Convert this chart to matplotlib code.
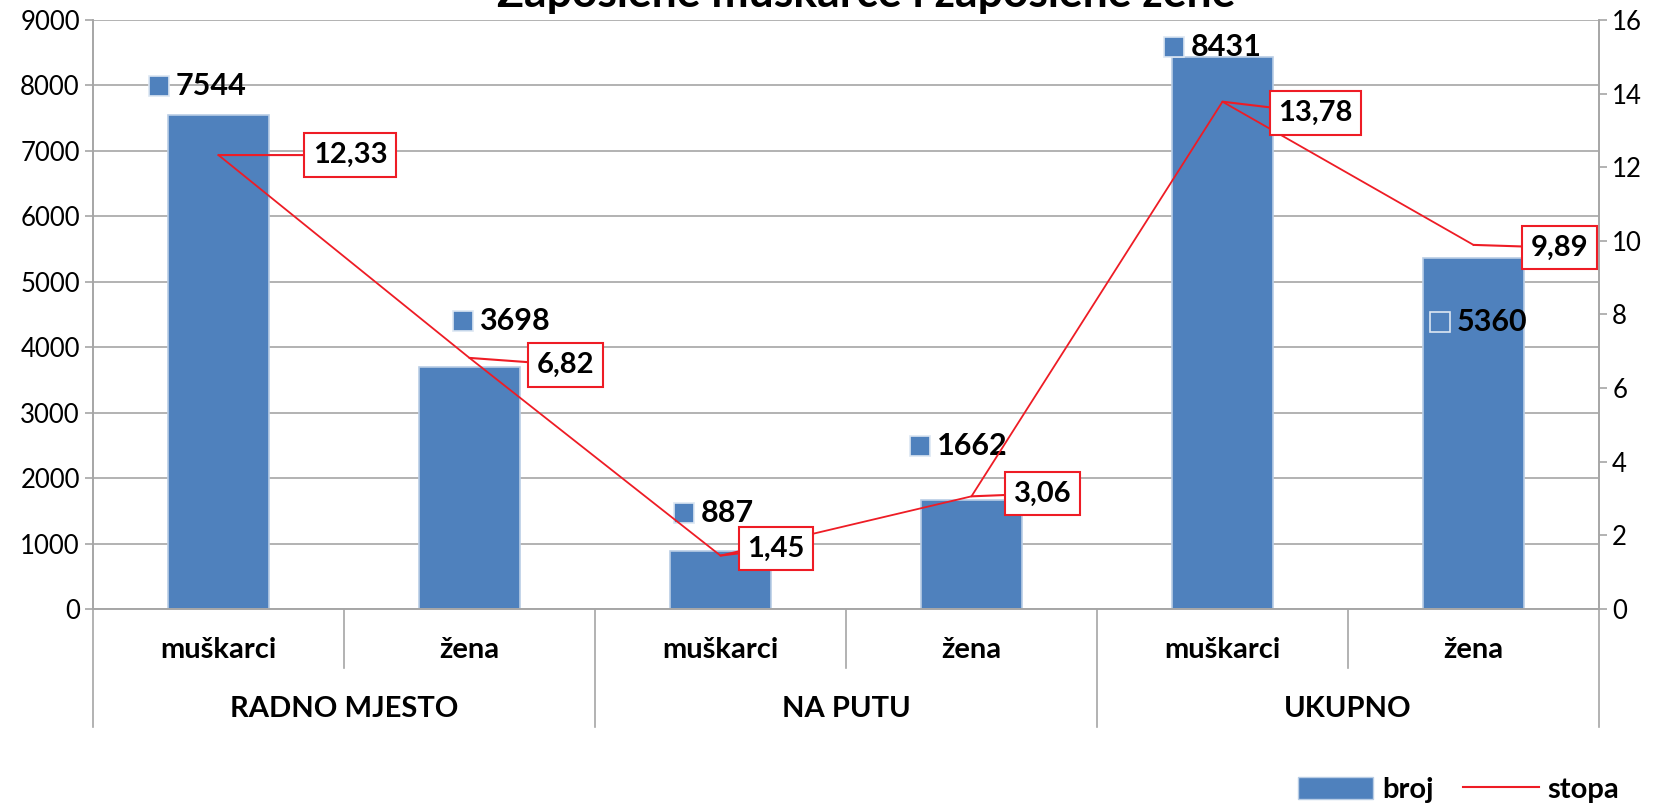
import matplotlib.pyplot as plt
import matplotlib.transforms as mtransforms
from matplotlib.patches import Patch
from matplotlib.lines import Line2D
import numpy as np

plt.rcParams['font.family'] = ['Lato', 'DejaVu Sans']

# podaci
spol = ['muškarci', 'žena', 'muškarci', 'žena', 'muškarci', 'žena']
grupe = ['RADNO MJESTO', 'NA PUTU', 'UKUPNO']
broj = [7544, 3698, 887, 1662, 8431, 5360]
stopa = [12.33, 6.82, 1.45, 3.06, 13.78, 9.89]
stopa_txt = ['12,33', '6,82', '1,45', '3,06', '13,78', '9,89']

# pomaci oznaka (u točkama)
pomak_broj = [(-43, 21), (-5, 33), (-26, 27), (-37, 39), (-35, 7), (-24, -46)]
pomak_stopa = [(95, 0), (69, -5), (40, 5), (51, 2), (67, -8), (62, -2)]

plava = '#4f81bd'
crvena = '#ee1c25'
siva = '#a6a6a6'

fig = plt.figure(figsize=(16.63, 8.05), dpi=100)
ax = fig.add_axes([0.0559, 0.2435, 0.9056, 0.7317])
ax2 = ax.twinx()

x = np.arange(len(broj))
ax.bar(x, broj, width=0.4, color=plava, edgecolor='#b9cde5', linewidth=1.2, zorder=2)
ax.set_xlim(-0.5, len(broj) - 0.5)
ax.set_ylim(0, 9000)
ax.set_yticks(range(0, 9001, 1000))
ax.grid(axis='y', color=siva, linewidth=1.2, zorder=0)
ax.set_axisbelow(True)
ax.set_xticks([])

ax2.plot(x, stopa, color=crvena, linewidth=1.3, zorder=3)
ax2.set_ylim(0, 16)
ax2.set_yticks(range(0, 17, 2))

for a in (ax, ax2):
    a.tick_params(axis='y', labelsize=18.5, length=6, color=siva, width=1.2)
    for s in a.spines.values():
        s.set_color(siva)
        s.set_linewidth(1.2)
    a.spines['top'].set_visible(False)
ax2.set_zorder(ax.get_zorder() + 1)
ax2.patch.set_visible(False)

# oznake broja
for i, v in enumerate(broj):
    dx, dy = pomak_broj[i]
    tr = mtransforms.offset_copy(ax.transData, fig=fig, x=dx, y=dy, units='points')
    ax.plot([i], [v], marker='s', ms=14, color=plava, mec='#dce6f2', mew=1.2,
            transform=tr, clip_on=False, zorder=5)
    ax.annotate(str(v), (i, v), xytext=(dx + 12, dy), textcoords='offset points',
                ha='left', va='center', fontsize=22, fontweight='bold', zorder=5)

# oznake stope
for i, v in enumerate(stopa):
    dx, dy = pomak_stopa[i]
    ax2.annotate(stopa_txt[i], (i, v), xytext=(dx, dy), textcoords='offset points',
                 ha='center', va='center', fontsize=21, fontweight='bold',
                 bbox=dict(boxstyle='square,pad=0.3', fc='white', ec=crvena, lw=1.5),
                 arrowprops=dict(arrowstyle='-', color=crvena, lw=1.5,
                                 shrinkA=0, shrinkB=0),
                 zorder=6)

# kategorije na dvije razine
trans = ax.get_xaxis_transform()
for i, s in enumerate(spol):
    ax.text(i, -0.07, s, transform=trans, ha='center', va='center',
            fontsize=21, fontweight='bold')
for j, g in enumerate(grupe):
    ax.text(2 * j + 0.5, -0.17, g, transform=trans, ha='center', va='center',
            fontsize=21, fontweight='bold')
for k in range(len(spol) + 1):
    dno = -0.2 if k % 2 == 0 else -0.1
    ax.plot([k - 0.5, k - 0.5], [0, dno], transform=trans, color=siva,
            lw=1.2, clip_on=False)

# naslov (odrezan na vrhu)
fig.text(0.521, 0.991, 'Zaposlene muškarce i zaposlene žene', ha='center',
         va='baseline', fontsize=32, fontweight='bold')

# legenda
ruke = [Patch(facecolor=plava, edgecolor='#b9cde5'), Line2D([], [], color=crvena, lw=1.5)]
fig.legend(ruke, ['broj', 'stopa'], loc='center', bbox_to_anchor=(0.877, 0.019),
           ncol=2, frameon=False, prop={'size': 21, 'weight': 'bold'},
           handlelength=2.6, handleheight=0.8, columnspacing=1.0, handletextpad=0.3)

fig.savefig('out.png', dpi=100)
